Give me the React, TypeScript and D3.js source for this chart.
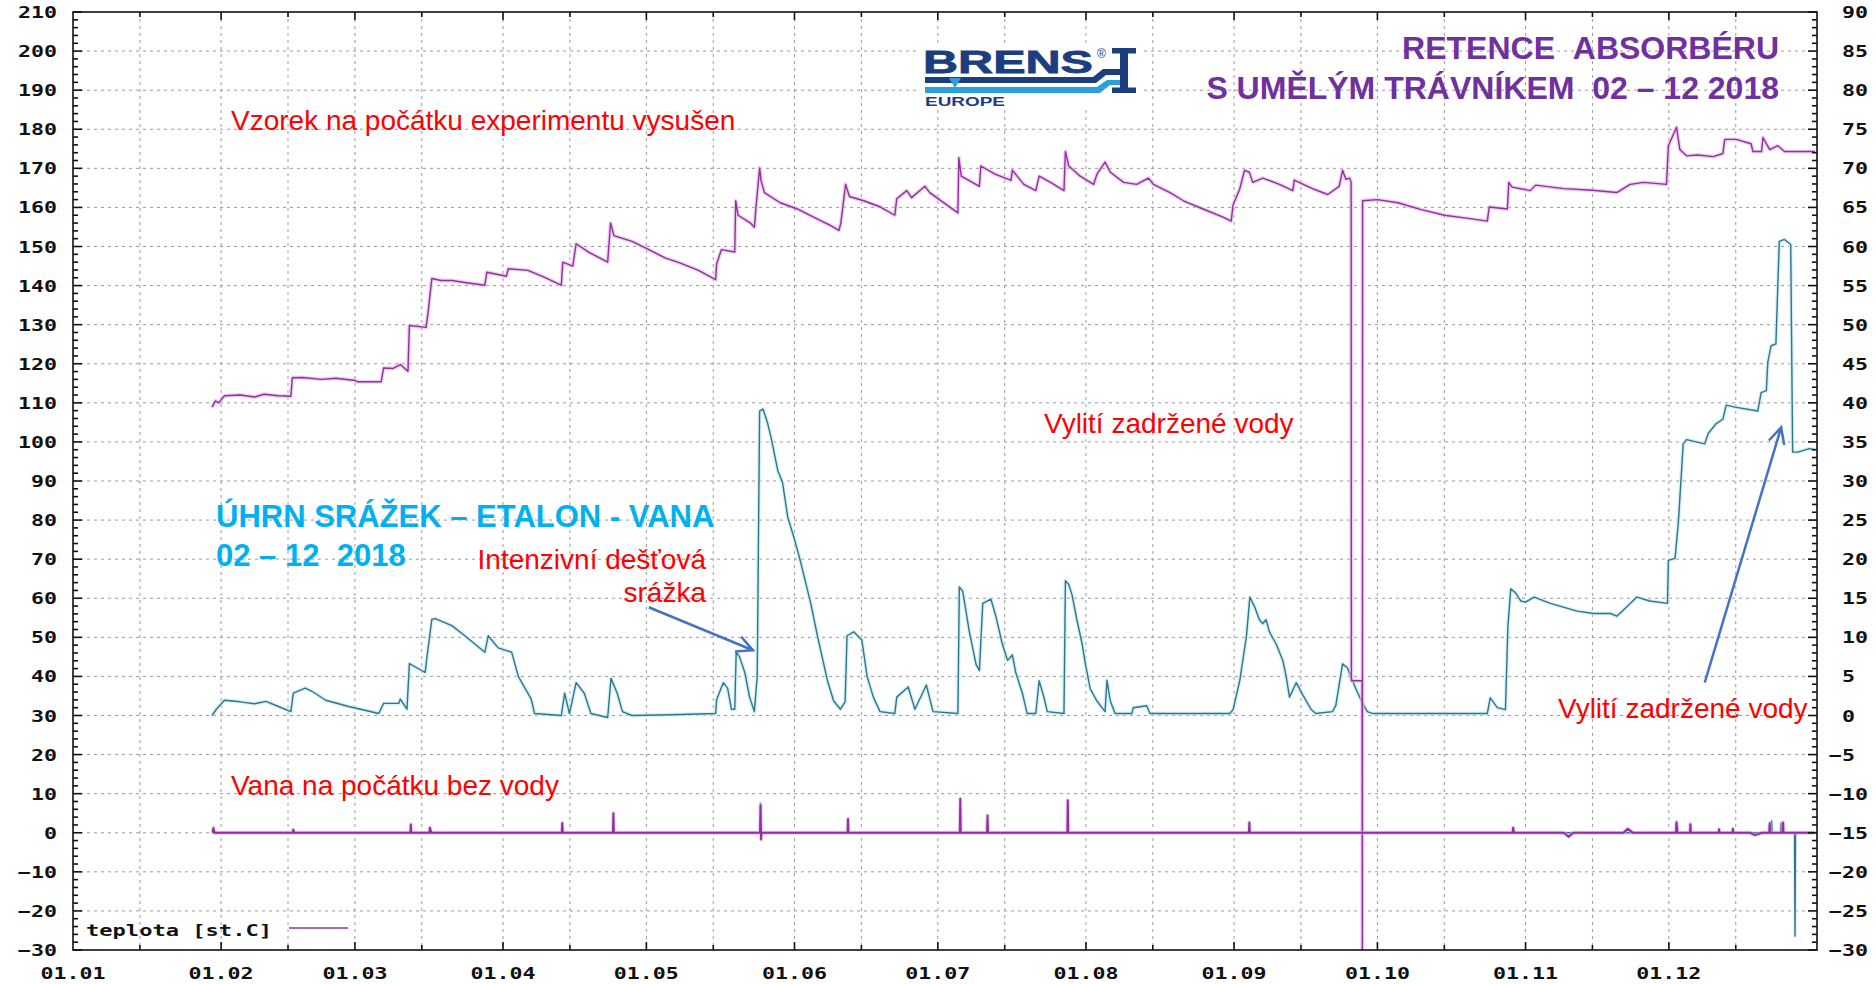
import React from 'react';
import * as d3 from 'd3';

// ---------- DATA (day of year 2018, value in left-axis units) ----------
const sample: [number, number][] = [
  [29.1, 108.9], [29.8, 110.5], [30.5, 110], [31.7, 111.8], [35, 112], [38, 111.5], [40, 112.2], [43, 111.8],
  [45.6, 111.7], [45.9, 116.4], [48, 116.5], [52, 116], [55, 116.3], [59.1, 115.7], [59.5, 115.4], [64.5, 115.4],
  [65, 118.9], [67, 118.8], [68.5, 119.8], [70.1, 118.1], [70.4, 129.8], [73.9, 129.3], [74.3, 133], [75.1, 141.8],
  [77, 141.3], [79.3, 141.3], [82, 140.8], [86.2, 140.1], [86.6, 143.4], [90.7, 142.4], [91.1, 144.3], [95.2, 143.9],
  [98, 142.5], [102.2, 140.1], [102.5, 146], [104.6, 145], [105.3, 150.7], [108, 148.5], [111.9, 146], [112.5, 156],
  [113.2, 152.8], [117, 151.3], [120, 149.5], [123.9, 147.1], [127, 145.8], [130.9, 143.9], [134.5, 141.5],
  [134.7, 145.5], [135.7, 149.2], [138.5, 148.6], [138.7, 161.7], [139.2, 158], [141.8, 156], [142.6, 154.9],
  [143, 160.7], [143.7, 170.1], [144, 166.9], [144.7, 163.8], [148, 161.2], [151.6, 159.6], [155, 157.5],
  [158.5, 155.4], [160.3, 154.1], [160.7, 156], [161.7, 165.9], [162.5, 162.8], [165.5, 161.7], [169, 160.1],
  [172, 158], [172.4, 162.2], [174.5, 164.3], [175.5, 162.5], [178.3, 165.4], [179.3, 163.8], [182.8, 160.7],
  [185.2, 158.6], [185.4, 172.7], [185.9, 168], [189.7, 165.4], [190, 170.6], [193, 168.5], [196.3, 166.9],
  [196.6, 169.5], [199, 165.9], [201.5, 164.3], [202.2, 168], [204.6, 166.4], [207.4, 164.3], [207.7, 174.3],
  [208.4, 170.6], [210.8, 168], [213.6, 165.9], [214.3, 168.5], [216, 171.6], [217.1, 169], [219.9, 166.4],
  [222.6, 165.9], [225.1, 167.5], [226.1, 165.9], [229.6, 163.8], [232.4, 161.7], [236.5, 159.6], [240.7, 157.5],
  [242.4, 156.5], [242.8, 160.7], [244.2, 164.8], [245.2, 169.5], [246.2, 169], [246.9, 166.4], [249, 167.5],
  [252.5, 165.9], [255.3, 164.3], [255.6, 167], [259.4, 164.8], [262.6, 163.3], [265, 165.4], [265.7, 169.5],
  [266.4, 167.2], [267.2, 167.5], [267.5, 166.4], [267.55, 38.9], [269.8, 38.9], [269.85, -40], [269.9, 161.7],
  [273, 162], [277.3, 161.2], [282, 159.5], [287, 158], [292, 157.2], [296, 156.5], [296.4, 160.1], [300.2, 159.6],
  [300.5, 166.4], [301.2, 165.2], [305, 164.3], [306.1, 165.7], [312, 164.8], [318, 164.4], [323.1, 163.8],
  [325.9, 165.9], [328.7, 166.4], [333.5, 165.9], [333.9, 175.8], [335.6, 180.5], [336.3, 174.8], [337.7, 173.2],
  [340, 173.4], [343.3, 173], [345.3, 173.8], [345.7, 177.4], [348.1, 177.4], [351.2, 176.3], [351.6, 174.3],
  [353.4, 174.3], [353.7, 177.9], [354.4, 176.3], [355.1, 174.8], [356.8, 175.8], [358.2, 174.3], [364.6, 174.3],
];

const rain: [number, number][] = [
  [29.1, 30], [30, 31.6], [31.7, 33.9], [35, 33.5], [38, 33], [40.4, 33.6], [43, 32.3], [45.6, 31], [46.1, 35.7],
  [48.6, 37], [50, 36.2], [52.9, 33.9], [57.7, 32.3], [64, 30.5], [65, 33.1], [68.2, 33.1], [68.5, 34.2], [69.9, 31.6],
  [70.4, 43.3], [73.7, 41], [74.1, 45.2], [75.1, 54.6], [75.8, 54.8], [79.3, 53], [82, 50.4], [86.2, 46.2], [86.9, 50.4],
  [89, 47.3], [91.8, 46.2], [93.2, 40], [95.9, 34.2], [96.6, 30.5], [102.2, 30], [102.9, 35.7], [103.9, 30.5],
  [105.3, 38.4], [107, 35.7], [108.4, 30.5], [111.9, 29.5], [112.6, 39.5], [113.9, 35.7], [115, 31], [117, 30],
  [125, 30.2], [134.5, 30.5], [134.7, 34], [136.1, 38.4], [137, 37], [137.8, 31.6], [138.5, 31.6], [138.8, 46.2],
  [139.5, 45], [140.6, 41], [141.6, 34.7], [142.6, 31], [143.2, 40], [143.7, 107.9], [144.4, 108.4], [145.4, 104.7],
  [146.1, 101.1], [147.5, 92.7], [148.5, 89.6], [149.6, 80.7], [150.9, 75.5], [152.3, 69.2], [154.4, 58.7],
  [155.8, 50.4], [157.9, 38.9], [159.2, 33.7], [160.6, 31.6], [161.6, 33.5], [162, 50.4], [163.4, 51.4],
  [165.1, 49.3], [166.2, 40], [167.5, 34.7], [168.9, 31], [172, 30.5], [172.4, 34.7], [174.8, 37.3], [176.2, 31.6],
  [178.6, 37.8], [180, 31], [185.2, 30.5], [185.5, 62.9], [186.2, 61.8], [187.6, 51.4], [189, 43.1], [189.7, 41.5],
  [190.4, 58.7], [192.1, 59.8], [193.1, 55.6], [194.5, 48.3], [195.6, 44.1], [196.6, 45.5], [197.3, 41],
  [198.7, 35.7], [199.7, 30.5], [201.5, 30.5], [202.2, 38.9], [203.2, 34.7], [203.9, 31], [207.4, 30.5],
  [207.7, 64.5], [208.4, 63.5], [209.1, 60.8], [210.1, 54.5], [211.2, 48.3], [211.9, 43.1], [212.9, 36.8],
  [214.3, 33.7], [216, 31], [216.4, 39], [217.1, 33.7], [218.1, 30.5], [221.6, 30.5], [221.9, 32], [224.7, 32.5],
  [225.4, 30.5], [235, 30.5], [242.1, 30.5], [242.8, 31.5], [244.2, 39], [245.6, 50.4], [246.3, 60.3], [247.3, 57.8],
  [248.3, 54.5], [249, 53.5], [249.7, 54.5], [250.4, 51.4], [251.8, 48.3], [253.2, 44.1], [253.9, 40], [254.6, 34.7],
  [256, 38.4], [257.4, 35.2], [259.1, 31.6], [260.1, 30.5], [263.6, 31], [264.3, 32.6], [265.7, 43.2], [266.7, 42.2],
  [268.5, 36.8], [269.9, 33.1], [270.9, 31], [272, 30.5], [280, 30.5], [287, 30.5], [296, 30.5], [296.6, 34.5],
  [298.1, 32], [299.8, 31.5], [300.3, 52.5], [300.9, 62.4], [301.9, 61.4], [303, 59.3], [304, 59], [305.8, 60.3],
  [309.2, 58.7], [314.8, 56.7], [318.3, 56.1], [321.8, 56.1], [323.1, 55.4], [325.2, 57.8], [327.3, 60.3],
  [330, 59.3], [333.7, 58.7], [333.9, 69.7], [335.3, 70.2], [336, 79.7], [337, 99.5], [337.7, 100.6], [341.5, 99.5],
  [342.2, 102.1], [343.9, 104.7], [345.3, 105.8], [346, 109.4], [347.8, 108.9], [352.6, 107.9], [353.3, 112.6],
  [354.4, 113.1], [354.7, 120.4], [355.4, 124.6], [356.4, 125.1], [357.1, 151.3], [358.2, 151.8], [359.5, 150.5],
  [359.9, 97.4], [361, 97.4], [363.4, 98.3], [364.6, 98],
];

const vanaPurple: [number, number][] = [
  [29.2, 0], [29.4, 1.2], [29.6, 0], [46, 0], [46.1, 0.8], [46.3, 0], [70.6, 0], [70.7, 2.1], [70.8, 0],
  [74.6, 0], [74.7, 1.3], [75, 0], [102.3, 0], [102.4, 2.5], [102.5, 0], [113, 0], [113.1, 5], [113.2, 0],
  [143.8, 0], [143.9, 7], [144, -1.7], [144.1, 0], [162.1, 0], [162.2, 3.5], [162.3, 0], [185.6, 0], [185.7, 8.7],
  [185.8, 0], [191.3, 0], [191.4, 4.4], [191.5, 0], [208.1, 0], [208.2, 8.3], [208.3, 0], [246.1, 0], [246.2, 2.6],
  [246.3, 0], [301.3, 0], [301.4, 1.3], [301.6, 0], [312, 0], [313, -1], [314, 0], [324.5, 0], [325.4, 1],
  [326.5, 0], [335.5, 0], [335.6, 2.6], [335.8, 0], [338.4, 0], [338.5, 2.2], [338.6, 0], [344.4, 0], [344.5, 0.9],
  [344.6, 0], [347.3, 0], [347.4, 1], [347.5, 0], [351, 0], [352, -0.6], [353.5, 0], [355, 0], [355.1, 2.4],
  [355.2, 0], [357.8, 0], [357.9, 2.6], [358, 0], [364.6, 0],
];

const vanaTeal: [number, number][] = [
  [29.2, 0], [143.8, 0], [143.9, 7.5], [144, 0], [191.3, 0], [191.4, 3], [191.5, 0], [335.5, 0], [335.6, 2.8],
  [335.7, 0], [355.4, 0], [355.5, 3], [355.6, 0], [357.4, 0], [357.5, 2.5], [357.6, 0], [360.3, 0], [360.4, -26.4],
  [360.5, 0], [364.6, 0],
];

const monthLabels = ['01.01', '01.02', '01.03', '01.04', '01.05', '01.06', '01.07', '01.08', '01.09', '01.10', '01.11', '01.12'];
const leftTicks = [210, 200, 190, 180, 170, 160, 150, 140, 130, 120, 110, 100, 90, 80, 70, 60, 50, 40, 30, 20, 10, 0, -10, -20, -30];
const rightTicks = [90, 85, 80, 75, 70, 65, 60, 55, 50, 45, 40, 35, 30, 25, 20, 15, 10, 5, 0, -5, -10, -15, -20, -25, -30];

// arrows [day, value] in left-axis units
const arrowRain: [number, number][] = [[120.5, 57.7], [142.3, 46.7]];
const arrowPour: [number, number][] = [[341.5, 38.4], [357.5, 103.7]];

// ---------- LAYOUT ----------
const W = 1875, H = 984;
const L = 73, R = 1817, T = 12, B = 950;
const t0 = Date.UTC(2018, 0, 1);
const toDate = (d: number) => new Date(t0 + d * 864e5);

const x = d3.scaleUtc().domain([new Date(t0), new Date(Date.UTC(2019, 0, 1))]).range([L, R]);
const y = d3.scaleLinear().domain([-30, 210]).range([B, T]);
const yR = d3.scaleLinear().domain([-30, 90]).range([B, T]);

const line = d3.line<[number, number]>().x(d => x(toDate(d[0]))).y(d => y(d[1]));

const PURPLE = '#93309f';
const TEAL = '#32748a';
const MONO = "'DejaVu Sans Mono', monospace";
const SANS = "'Liberation Sans', Arial, sans-serif";
const NB = '\u00a0';

const fmt = (v: number) => (v < 0 ? '\u2212' + Math.abs(v) : String(v));

export default function App() {
  const monthStarts = monthLabels.map((_, i) => new Date(Date.UTC(2018, i, 1)));
  const mids = monthLabels.map((_, i) => new Date(Date.UTC(2018, i, 15)));
  const minorLeft = d3.range(-30, 211, 2);
  const minorRight = d3.range(-30, 91, 1);
  const arrowPath = (a: [number, number][]) => `M${x(toDate(a[0][0]))},${y(a[0][1])} L${x(toDate(a[1][0]))},${y(a[1][1])}`;

  return (
    <div style={{ position: 'absolute', left: 0, top: 0, width: W, height: H, background: '#fff' }}>
      <svg width={W} height={H} viewBox={`0 0 ${W} ${H}`} style={{ display: 'block' }}>
        <defs>
          <clipPath id="plot"><rect x={L} y={T} width={R - L} height={B - T} /></clipPath>
          <marker id="arrowHead" markerUnits="userSpaceOnUse" markerWidth={20} markerHeight={20} refX={17} refY={9} orient="auto">
            <path d="M1,1 L17,9 L1,17" fill="none" stroke="#4472c4" strokeWidth={2.5} />
          </marker>
        </defs>
        <rect x={0} y={0} width={W} height={H} fill="#fff" />

        {/* grid */}
        <g stroke="#9a9a9a" strokeWidth={1} strokeDasharray="3,4">
          {leftTicks.filter(v => v > -30 && v < 210).map(v => (
            <line key={'h' + v} x1={L} x2={R} y1={y(v)} y2={y(v)} />
          ))}
          {[...monthStarts.slice(1), ...mids].map((d, i) => (
            <line key={'v' + i} x1={x(d)} x2={x(d)} y1={T} y2={B} />
          ))}
        </g>

        {/* series */}
        <g clipPath="url(#plot)" fill="none" strokeLinejoin="round">
          <path d={line(vanaTeal) || ''} stroke="#bfe6f0" strokeWidth={3.5} opacity={0.6} />
          <path d={line(vanaTeal) || ''} stroke={TEAL} strokeWidth={1.4} />
          <path d={line(rain) || ''} stroke="#c4ecf5" strokeWidth={4} opacity={0.7} />
          <path d={line(rain) || ''} stroke={TEAL} strokeWidth={1.4} />
          <path d={line(sample) || ''} stroke="#e6bdea" strokeWidth={4} opacity={0.7} />
          <path d={line(sample) || ''} stroke={PURPLE} strokeWidth={1.4} />
          <path d={line(vanaPurple) || ''} stroke="#e0b0e6" strokeWidth={4} opacity={0.6} />
          <path d={line(vanaPurple) || ''} stroke={PURPLE} strokeWidth={2} />
        </g>

        {/* frame + ticks */}
        <g stroke="#111" strokeWidth={1.6}>
          <rect x={L} y={T} width={R - L} height={B - T} fill="none" />
          {minorLeft.map(v => (
            <line key={'ml' + v} x1={L} x2={L + (v % 10 === 0 ? 9 : 5)} y1={y(v)} y2={y(v)} />
          ))}
          {minorRight.map(v => (
            <line key={'mr' + v} x1={R} x2={R - (v % 5 === 0 ? 9 : 5)} y1={yR(v)} y2={yR(v)} />
          ))}
          {monthStarts.slice(1).map((d, i) => (
            <g key={'mt' + i}>
              <line x1={x(d)} x2={x(d)} y1={T} y2={T + 8} />
              <line x1={x(d)} x2={x(d)} y1={B} y2={B - 8} />
            </g>
          ))}
          {mids.map((d, i) => (
            <g key={'md' + i}>
              <line x1={x(d)} x2={x(d)} y1={T} y2={T + 5} />
              <line x1={x(d)} x2={x(d)} y1={B} y2={B - 5} />
            </g>
          ))}
        </g>

        {/* tick labels */}
        <g fontFamily={MONO} fontWeight="bold" fontSize={16.5} fill="#111">
          {leftTicks.map(v => {
            const s = fmt(v);
            return (
              <text key={'lt' + v} x={57} y={y(v) + 6} textAnchor="end" textLength={s.length * 13} lengthAdjust="spacingAndGlyphs">{s}</text>
            );
          })}
          {rightTicks.map(v => {
            const s = fmt(v);
            return (
              <text key={'rt' + v} x={v < 0 ? 1829 : 1842} y={yR(v) + 6} textLength={s.length * 13} lengthAdjust="spacingAndGlyphs">{s}</text>
            );
          })}
          {monthLabels.map((m, i) => (
            <text key={'xl' + i} x={x(monthStarts[i])} y={979} textAnchor="middle" textLength={65} lengthAdjust="spacingAndGlyphs">{m}</text>
          ))}
          <text x={86} y={936} textLength={186} lengthAdjust="spacingAndGlyphs">teplota [st.C]</text>
        </g>
        <line x1={289} x2={348} y1={928} y2={928} stroke={PURPLE} strokeWidth={1.6} />

        {/* annotations */}
        <g fontFamily={SANS} fill="#ff0000" fontSize={28}>
          <text x={231} y={130}>Vzorek na počátku experimentu vysušen</text>
          <text x={231} y={795}>Vana na počátku bez vody</text>
          <text x={1044} y={433}>Vylití zadržené vody</text>
          <text x={1558} y={718}>Vylití zadržené vody</text>
          <text x={706} y={569} textAnchor="end">Intenzivní dešťová</text>
          <text x={706} y={602} textAnchor="end">srážka</text>
        </g>
        <g fontFamily={SANS} fill="#00b0f0" fontSize={31} fontWeight="bold">
          <text x={216} y={527}>ÚHRN SRÁŽEK – ETALON - VANA</text>
          <text x={216} y={566}>{`02 – 12 ${NB}2018`}</text>
        </g>
        <g fontFamily={SANS} fill="#7030a0" fontSize={32} fontWeight="bold" textAnchor="end">
          <text x={1779} y={59}>{`RETENCE ${NB}ABSORBÉRU`}</text>
          <text x={1779} y={99}>{`S UMĚLÝM TRÁVNÍKEM ${NB}02 – 12 2018`}</text>
        </g>

        {/* arrows */}
        <g stroke="#4472c4" strokeWidth={2.5} fill="none">
          <path d={arrowPath(arrowRain)} markerEnd="url(#arrowHead)" />
          <path d={arrowPath(arrowPour)} markerEnd="url(#arrowHead)" />
        </g>

        {/* logo */}
        <g>
          <rect x={918} y={44} width={222} height={66} fill="#fff" />
          <text x={923} y={73} fontFamily={SANS} fontWeight="bold" fontSize={32} fill="#1d3e7e" stroke="#1d3e7e" strokeWidth={0.8} textLength={170} lengthAdjust="spacingAndGlyphs">BRENS</text>
          <text x={1097} y={58} fontFamily={SANS} fontSize={12} fill="#1d3e7e">®</text>
          <path d="M1112,48 H1136 V53.5 H1128 V87.5 H1136 V93 H1112 V87.5 H1120 V53.5 H1112 Z" fill="#1d3e7e" />
          <path d="M925,77 H1093 L1103,69 H1120 V75 H1106 L1096,83 H925 Z" fill="#1d3e7e" />
          <path d="M925,87 H1097 L1107,80 H1120 V85 H1110 L1100,93 H925 Z" fill="#2a9fdc" />
          <path d="M949,78 L961,78 L955,88 Z" fill="#2a9fdc" />
          <text x={925} y={106} fontFamily={SANS} fontWeight="bold" fontSize={12} fill="#1d3e7e" textLength={80} lengthAdjust="spacingAndGlyphs">EUROPE</text>
        </g>
      </svg>
    </div>
  );
}
